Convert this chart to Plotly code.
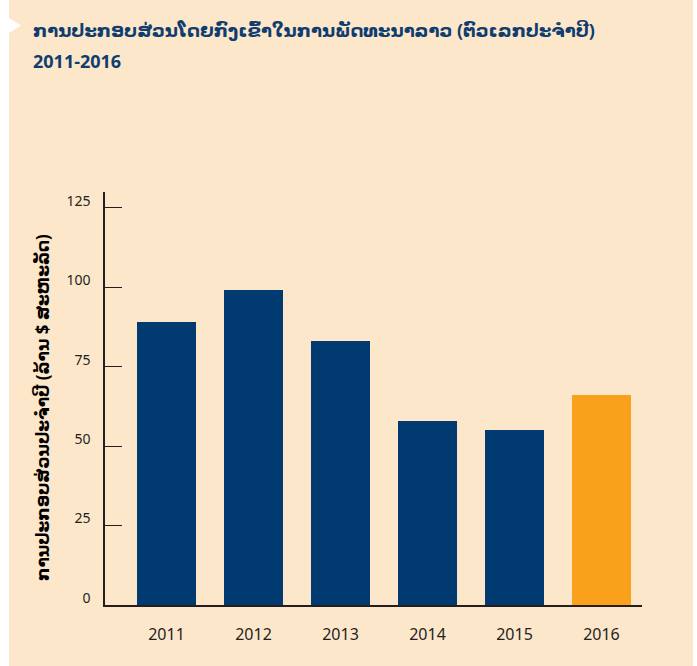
import plotly.graph_objects as go

years = ["2011", "2012", "2013", "2014", "2015", "2016"]
values = [89, 99, 83, 58, 55, 66]
bar_colors = ["#003A70", "#003A70", "#003A70", "#003A70", "#003A70", "#F9A11B"]
y_ticks = [0, 25, 50, 75, 100, 125]

title_line1 = "ການປະກອບສ່ວນໂດຍກົງເຂົ້າໃນການພັດທະນາລາວ (ຕົວເລກປະຈຳປີ)"
title_line2 = "2011-2016"
y_title = "ການປະກອບສ່ວນປະຈຳປີ (ລ້ານ $ ສະຫະລັດ)"

W, H = 697, 666
L, R, T, B = 105, 642, 192, 605

def px(xp):
    return (xp - L) / (R - L)

def py(yp):
    return (B - yp) / (B - T)

BG = "#FDE7CB"
FONT = "Noto Sans, Open Sans, DejaVu Sans, sans-serif"

fig = go.Figure(go.Bar(
    x=list(range(len(years))), y=values,
    marker=dict(color=bar_colors, line=dict(width=0)),
    width=0.678,
))

fig.update_layout(
    width=W, height=H,
    margin=dict(l=L, r=W - R, t=T, b=H - B),
    paper_bgcolor=BG, plot_bgcolor=BG,
    showlegend=False,
    font=dict(family=FONT, color="#231F20"),
    bargap=0,
)
fig.update_xaxes(
    range=[-0.707, 5.466],
    tickmode="array", tickvals=list(range(len(years))), ticktext=years,
    showgrid=False, zeroline=False,
    showline=True, linecolor="#231F20", linewidth=1.5,
    ticks="", tickfont=dict(size=16, color="#231F20"),
    ticklabelstandoff=14,
)
fig.update_yaxes(
    range=[0, 130],
    tickmode="array", tickvals=y_ticks,
    showgrid=False, zeroline=False,
    showline=True, linecolor="#231F20", linewidth=1.5,
    ticks="inside", ticklen=17, tickwidth=1.4, tickcolor="#231F20",
    tickfont=dict(size=14, color="#231F20"),
    ticklabelstandoff=10, ticklabelshift=-7,
)

shapes = [
    dict(type="rect", xref="paper", yref="paper", x0=px(0), x1=px(9), y0=py(H), y1=py(0),
         fillcolor="white", line=dict(width=0), layer="above"),
    dict(type="rect", xref="paper", yref="paper", x0=px(693), x1=px(W), y0=py(H), y1=py(0),
         fillcolor="white", line=dict(width=0), layer="above"),
    dict(type="path", xref="paper", yref="paper",
         path=f"M {px(9)} {py(18)} L {px(21)} {py(25.5)} L {px(9)} {py(33)} Z",
         fillcolor="white", line=dict(width=0), layer="above"),
]
fig.update_layout(shapes=shapes)

annotations = [
    dict(text=f"<b>{title_line1}</b>", xref="paper", yref="paper", x=px(31), y=py(30),
         xanchor="left", yanchor="middle", showarrow=False,
         font=dict(size=18, color="#0F3D6E", family=FONT)),
    dict(text=f"<b>{title_line2}</b>", xref="paper", yref="paper", x=px(31), y=py(61),
         xanchor="left", yanchor="middle", showarrow=False,
         font=dict(size=18, color="#0F3D6E", family=FONT)),
    dict(text=f"<b>{y_title}</b>", xref="paper", yref="paper", x=px(42), y=py(408),
         xanchor="center", yanchor="middle", showarrow=False, textangle=-90,
         font=dict(size=17, color="#000000", family=FONT)),
]
fig.update_layout(annotations=annotations)

fig.write_html("out.html", config={"displayModeBar": False},
               post_script="document.body.style.margin='0';document.body.style.padding='0';")
